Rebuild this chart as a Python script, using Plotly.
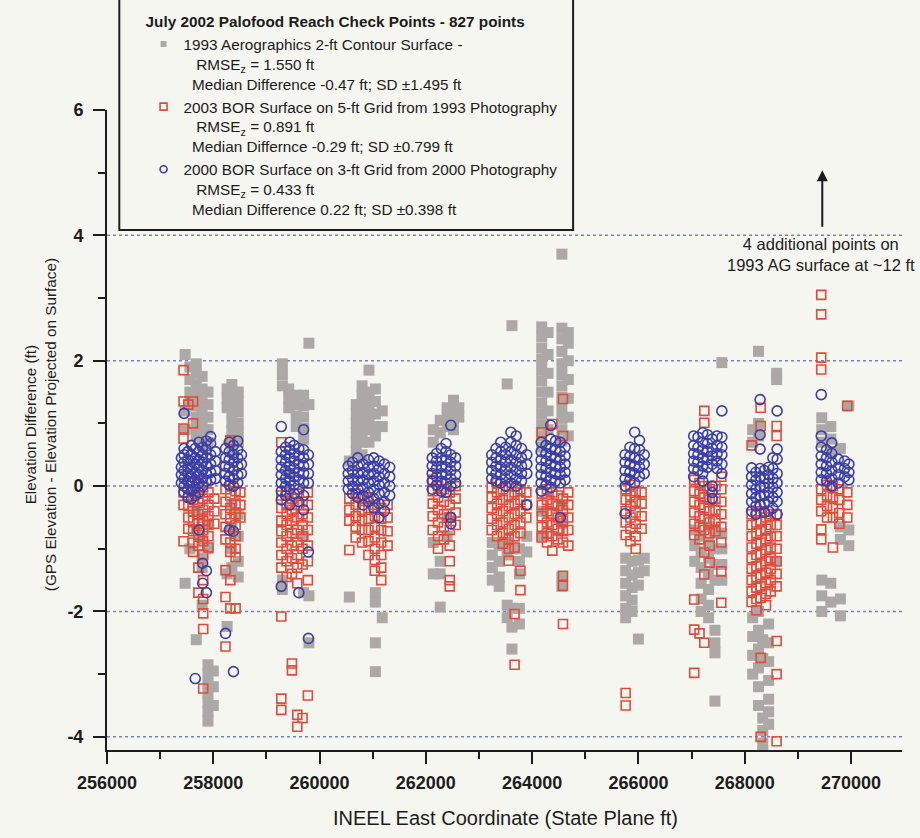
import plotly.graph_objects as go

# East coordinate (ft) of each check-point line and the elevation differences (ft) read along it.

# 1993 Aerographics 2-ft contour surface
ag_east = [257470, 257560, 257680, 257790, 257900, 258000,
           258260, 258350, 258470,
           259300, 259420, 259560, 259700, 259800,
           260560, 260690, 260800, 260930, 261050, 261180,
           262140, 262270, 262400, 262520, 262620,
           263250, 263380, 263530, 263620, 263760, 263900,
           264180, 264300, 264560, 264680,
           265760, 265880, 266000, 266110,
           267060, 267180, 267320, 267440, 267570,
           268150, 268260, 268340, 268450, 268600,
           269450, 269620, 269800, 269960]
ag_diff = [
    [2.1, 1.2, 0.9, -1.55],
    [1.9, 1.7, 1.5, 1.35, -1.0],
    [1.95, 1.8, 1.62, 1.45, 1.28, 1.1, 0.95, 0.8, -0.4, -0.7, -2.45],
    [1.75, 1.55, 1.38, 1.2, 1.02, 0.85, 0.65, -0.5, -0.85, -1.15, -1.3, -1.9],
    [1.5, 1.3, 1.1, 0.9, 0.7, -0.6, -1.0, -2.85, -3.0, -3.15, -3.3, -3.45, -3.6, -3.75],
    [-2.95, -3.2, -3.5],
    [1.55, 1.4, 1.25, -1.4, -2.24],
    [1.62, 1.48, 1.32, 1.18, 1.02, 0.88, 0.72, 0.55, -0.3, -0.65, -1.0, -1.3],
    [1.5, 1.35, 1.18, 1.0, 0.85, 0.7, -0.45, -0.8, -1.2, -1.45],
    [1.95, 1.78, 1.6, -1.5, -1.65],
    [1.55, 1.4, 1.25, 0.2],
    [1.45, 1.3, 1.12, 0.95],
    [1.45, 1.28, 1.1, 0.92, 0.75, -0.8, -1.7],
    [2.28, 1.3, -1.75, -2.5],
    [0.4, -1.77],
    [1.3, 1.15, 1.0, 0.85, 0.7, 0.55],
    [1.6, 1.45, 1.3, 1.15, 1.0, 0.85, 0.7, 0.5],
    [1.85, 1.5, 1.35, 1.2, 1.05, 0.9, 0.7],
    [1.55, 1.35, 1.15, 0.95, 0.8, -1.7, -1.85, -2.5, -2.96],
    [1.2, 0.95, -2.1],
    [0.9, 0.7, -0.9, -1.4],
    [1.05, 0.85, -1.2, -1.4, -1.93],
    [1.25, 1.1, 0.95, -0.5, -0.8],
    [1.37, 1.22, 1.05, 0.9],
    [1.25, 1.1],
    [-0.9, -1.1, -1.3, -1.5],
    [-0.95, -1.2, -1.45, -1.6],
    [1.63, -0.9, -1.1, -1.9, -2.1],
    [2.56, -1.0, -1.95, -2.25, -2.6],
    [-1.0, -1.2, -1.4, -1.95, -2.2],
    [-0.8, -1.05],
    [2.54, 2.38, 2.2, 2.02, 1.85, 1.68, 1.5, 1.32, 1.15, 0.98, 0.8, 0.62, -0.4, -0.8],
    [2.45, 2.1, 1.8, 1.5, 1.2, 0.9],
    [3.7, 2.52, 2.35, 2.15, 1.95, 1.78, 1.6, 1.42, 1.25, 1.08, 0.9, 0.72, -0.3, -0.6, -1.45, -1.6],
    [2.45, 2.28, 2.0, 1.7, 1.4, 1.1, 0.8],
    [-1.15, -1.35, -1.55, -1.75, -1.95, -2.1],
    [-1.2, -1.42, -1.62, -1.82, -2.0],
    [-1.18, -1.38, -1.58, -2.44],
    [-1.15, -1.35],
    [-0.7, -0.95, -1.2],
    [-0.8, -1.05, -1.3, -1.55, -1.8, -2.0],
    [-0.65, -0.9, -1.15, -1.4, -1.65, -1.9, -2.1],
    [-0.75, -1.0, -1.25, -1.5, -2.3, -2.5, -2.66, -3.43],
    [1.97, -0.75, -1.0, -1.25, -1.5],
    [0.9, 0.7, -2.1, -2.4, -2.7, -3.0],
    [2.15, 1.0, 0.8, -2.0, -2.3, -2.6, -2.9, -3.2, -3.5],
    [-3.7, -3.9, -4.1, -4.25, -2.45, -2.75],
    [-2.2, -2.5, -2.8, -3.1, -3.4, -3.6, -3.8],
    [1.8, 1.7, -1.2],
    [1.09, 0.9, 0.7, -1.5, -1.75, -2.0],
    [0.95, 0.75, 0.55, -1.55, -1.85],
    [0.6, -0.65, -0.85, -1.8, -2.07],
    [1.28, -0.7, -0.95],
]

# 2003 BOR surface, 5-ft grid, 1993 photography
bor93_east = [257440, 257530, 257620, 257720, 257810, 257910, 258020,
              258230, 258320, 258420, 258510,
              259280, 259380, 259480, 259580, 259680, 259780,
              260560, 260680, 260800, 260920, 261040, 261160, 261280,
              262130, 262230, 262340, 262450, 262560,
              263240, 263340, 263450, 263560, 263670, 263780, 263890,
              264180, 264280, 264380, 264480, 264580, 264680,
              265760, 265850, 265950, 266060,
              267050, 267150, 267240, 267340, 267450, 267560,
              268130, 268220, 268300, 268400, 268490, 268600,
              269440, 269550, 269660, 269780, 269930]
bor93_diff = [
    [1.85, 1.35, 0.92, 0.76, -0.1, -0.3, -0.88],
    [1.3, 0.05, -0.15, -0.32, -0.5, -0.68],
    [1.35, 1.0, -0.05, -0.22, -0.4, -0.55, -0.72, -0.9, -1.05],
    [0.08, -0.1, -0.27, -0.45, -0.6, -0.78, -0.95, -1.3, -1.7],
    [-0.02, -0.2, -0.38, -0.55, -0.7, -0.88, -1.1, -1.5, -1.8, -2.03, -2.28, -3.23],
    [-0.1, -0.3, -0.48, -0.62, -0.8, -0.98],
    [-0.2, -0.4, -0.6],
    [-0.05, -0.25, -0.45, -0.65, -0.85, -1.34, -1.77, -2.56],
    [0.73, 0.02, -0.15, -0.35, -0.52, -0.7, -0.9, -1.05, -1.5, -1.95],
    [-0.08, -0.28, -0.45, -0.62, -0.8, -1.0, -1.13, -1.95],
    [-0.1, -0.3, -0.5],
    [0.7, -0.15, -0.35, -0.55, -0.72, -0.9, -1.1, -1.3, -2.08, -3.39, -3.57],
    [-0.1, -0.28, -0.45, -0.62, -0.8, -1.0, -1.2, -1.45],
    [-0.2, -0.38, -0.55, -0.75, -0.95, -1.15, -1.4, -2.83, -2.94],
    [-0.12, -0.3, -0.5, -0.7, -0.9, -1.1, -1.3, -1.55, -3.65, -3.84],
    [-0.25, -0.45, -0.62, -0.8, -1.0, -1.25, -3.7],
    [-0.1, -0.3, -0.5, -0.7, -0.95, -1.2, -1.5, -3.34],
    [-0.2, -0.38, -0.55, -1.02],
    [-0.12, -0.3, -0.48, -0.65, -0.82],
    [-0.2, -0.38, -0.55, -0.7, -0.9],
    [-0.18, -0.35, -0.52, -0.7, -0.88, -1.1],
    [-0.3, -0.48, -0.65, -0.82, -1.0, -1.18, -1.35],
    [-0.35, -0.52, -0.7, -0.9, -1.1, -1.3, -1.5],
    [-0.3, -0.5, -0.72, -0.95],
    [0.1, -0.08, -0.28, -0.48, -0.7],
    [0.0, -0.18, -0.38, -0.58, -0.8, -1.0],
    [-0.05, -0.25, -0.45, -0.65, -0.85],
    [-0.1, -0.3, -0.5, -0.7, -0.95, -1.2, -1.5, -1.6],
    [0.0, -0.2, -0.42, -0.62],
    [-0.02, -0.18, -0.35, -0.52, -0.7],
    [0.05, -0.1, -0.28, -0.45, -0.62, -0.8],
    [-0.05, -0.22, -0.4, -0.58, -0.75, -0.92],
    [0.0, -0.15, -0.32, -0.5, -0.68, -0.85, -1.0, -1.19],
    [-0.1, -0.28, -0.45, -0.62, -0.8, -0.98, -2.04, -2.85],
    [-0.05, -0.22, -0.4, -0.58, -0.75, -1.35, -1.66],
    [-0.1, -0.3, -0.5],
    [0.86, -0.12, -0.3, -0.48, -0.65, -0.82],
    [-0.05, -0.22, -0.4, -0.58, -0.75, -0.9],
    [0.99, -0.1, -0.28, -0.45, -0.62, -0.8, -1.03],
    [-0.15, -0.32, -0.5, -0.68, -0.85],
    [1.39, 0.8, -0.2, -0.38, -0.55, -0.72, -0.9, -1.43, -1.59, -2.2],
    [-0.1, -0.3, -0.5, -0.7, -0.95],
    [-0.05, -0.22, -0.4, -0.58, -0.78, -3.3, -3.5],
    [0.02, -0.15, -0.32, -0.5, -0.68, -0.88],
    [-0.08, -0.25, -0.42, -0.6, -0.8, -1.0],
    [-0.1, -0.28, -0.48, -0.68],
    [0.1, -0.08, -0.25, -0.42, -0.6, -0.78, -1.81, -2.29, -2.98],
    [0.05, -0.12, -0.3, -0.48, -0.65, -0.85, -2.35],
    [1.2, 1.01, 0.0, -0.18, -0.35, -0.52, -0.7, -1.06, -1.41, -2.5],
    [-0.05, -0.22, -0.4, -0.58, -0.75, -0.95, -1.22],
    [0.0, -0.2, -0.38, -0.55, -0.72],
    [0.15, -0.05, -0.25, -0.45, -0.65, -0.9, -1.36, -1.86],
    [0.65, -0.45, -0.62, -0.8, -0.98, -1.15, -1.32, -1.5, -1.68, -1.85],
    [-0.42, -0.58, -0.75, -0.92, -1.1, -1.28, -1.45, -1.62, -1.8, -1.98],
    [1.25, 0.96, -0.4, -0.55, -0.72, -0.9, -1.08, -1.25, -1.42, -1.6, -1.78, -2.74, -4.0],
    [-0.5, -0.68, -0.85, -1.02, -1.2, -1.38, -1.55, -1.72, -1.9],
    [-0.45, -0.62, -0.8, -0.98, -1.15, -1.32, -1.5, -1.68],
    [0.96, 0.8, -0.45, -0.62, -0.8, -1.0, -1.2, -1.4, -1.6, -2.47, -3.0, -4.07],
    [3.05, 2.74, 2.05, 1.86, -0.05, -0.22, -0.4, -0.69, -0.85],
    [0.02, -0.15, -0.32, -0.5],
    [0.0, -0.18, -0.35, -0.5, -0.98],
    [-0.05, -0.22, -0.43, -0.6],
    [1.28, -0.1, -0.3, -0.5],
]

# 2000 BOR surface, 3-ft grid, 2000 photography
bor00_east = [257400, 257450, 257520, 257590, 257660, 257730, 257800, 257870, 257950, 258040,
              258230, 258300, 258380, 258460, 258530,
              259280, 259360, 259440, 259520, 259610, 259700, 259790,
              260540, 260620, 260720, 260820, 260920, 261020, 261120, 261220, 261320,
              262120, 262200, 262290, 262380, 262470, 262560,
              263240, 263320, 263410, 263500, 263600, 263700, 263800, 263900,
              264170, 264260, 264350, 264440, 264530, 264620,
              265750, 265840, 265930, 266020, 266110,
              267040, 267120, 267210, 267300, 267390, 267480, 267570,
              268130, 268210, 268290, 268370, 268450, 268530, 268610,
              269440, 269540, 269640, 269760, 269880, 269960]
bor00_diff = [
    [0.45, 0.3, 0.18, 0.05],
    [1.16, 0.6, 0.5, 0.38, 0.25, 0.12, 0.0, -0.1],
    [0.55, 0.42, 0.3, 0.2, 0.08, -0.05, -0.18],
    [0.65, 0.5, 0.4, 0.28, 0.15, 0.05, -0.08, -0.2],
    [0.6, 0.45, 0.35, 0.22, 0.1, -0.02, -0.15, -3.07],
    [0.7, 0.55, 0.42, 0.3, 0.18, 0.05, -0.1, -0.7],
    [0.62, 0.5, 0.38, 0.25, 0.12, 0.0, -1.23, -1.55],
    [0.72, 0.58, 0.45, 0.32, 0.2, 0.08, -1.35, -1.7],
    [0.79, 0.68, 0.5, 0.35, 0.22, 0.1],
    [0.55, 0.4, 0.25, 0.12],
    [0.6, 0.45, 0.32, 0.2, 0.08, -2.35],
    [0.7, 0.55, 0.42, 0.3, 0.15, 0.02, -0.7],
    [0.65, 0.5, 0.38, 0.25, 0.12, 0.0, -0.72, -2.96],
    [0.72, 0.58, 0.45, 0.32, 0.18, 0.05],
    [0.5, 0.35, 0.2],
    [0.95, 0.55, 0.42, 0.3, 0.18, 0.05, -0.08, -0.22, -1.6],
    [0.62, 0.5, 0.38, 0.25, 0.12, 0.0, -0.15],
    [0.7, 0.58, 0.45, 0.32, 0.2, 0.08, -0.05, -0.3],
    [0.65, 0.52, 0.4, 0.28, 0.15, 0.02, -0.12],
    [0.6, 0.48, 0.35, 0.22, 0.1, -0.05, -0.25, -1.7],
    [0.9, 0.58, 0.45, 0.32, 0.2, 0.05, -0.15, -0.38],
    [0.5, 0.35, 0.2, 0.05, -1.05, -2.43],
    [0.32, 0.2, 0.08, -0.05],
    [0.38, 0.25, 0.12, 0.0, -0.12],
    [0.45, 0.32, 0.2, 0.08, -0.05, -0.18],
    [0.35, 0.22, 0.1, -0.02, -0.15, -0.3],
    [0.42, 0.3, 0.18, 0.05, -0.1, -0.25],
    [0.45, 0.32, 0.2, 0.08, -0.05, -0.2, -0.35],
    [0.4, 0.28, 0.15, 0.02, -0.12, -0.28, -0.5],
    [0.35, 0.2, 0.05, -0.1, -0.25, -0.4],
    [0.3, 0.15, 0.0, -0.15],
    [0.45, 0.32, 0.2, 0.08, -0.05],
    [0.52, 0.4, 0.28, 0.15, 0.02],
    [0.6, 0.45, 0.32, 0.2, 0.08, -0.08],
    [0.68, 0.55, 0.42, 0.3, 0.18, 0.05, -0.1],
    [0.97, 0.5, 0.38, 0.25, 0.12, 0.0, -0.5, -0.6],
    [0.45, 0.32, 0.18, 0.05],
    [0.5, 0.38, 0.25, 0.12],
    [0.6, 0.45, 0.32, 0.2, 0.08],
    [0.7, 0.55, 0.42, 0.3, 0.18, 0.05],
    [0.62, 0.5, 0.38, 0.25, 0.12, 0.0],
    [0.86, 0.7, 0.55, 0.42, 0.3, 0.18, 0.05],
    [0.8, 0.65, 0.5, 0.38, 0.25, 0.12, 0.0],
    [0.6, 0.45, 0.32, 0.2, 0.08],
    [0.5, 0.35, 0.2, -0.3],
    [0.7, 0.55, 0.42, 0.3, 0.18, 0.05, -0.08],
    [0.65, 0.52, 0.4, 0.28, 0.15, 0.02],
    [0.97, 0.75, 0.6, 0.48, 0.35, 0.22, 0.1, -0.02],
    [0.72, 0.58, 0.45, 0.32, 0.2, 0.08],
    [0.7, 0.55, 0.42, 0.3, 0.18, 0.05, -0.5],
    [0.62, 0.48, 0.35, 0.22, 0.1],
    [0.5, 0.38, 0.25, 0.12, 0.0, -0.44],
    [0.62, 0.48, 0.35, 0.22, 0.1],
    [0.86, 0.6, 0.45, 0.32, 0.2, 0.05],
    [0.73, 0.58, 0.42, 0.3, 0.15],
    [0.5, 0.35, 0.2],
    [0.8, 0.65, 0.52, 0.4, 0.28, 0.15],
    [0.78, 0.62, 0.5, 0.38, 0.25],
    [0.85, 0.7, 0.58, 0.45, 0.32, 0.2, 0.08],
    [0.82, 0.68, 0.55, 0.42, 0.3],
    [0.75, 0.6, 0.48, 0.35, 0.0, -0.1, -0.2],
    [0.8, 0.65, 0.52, 0.4, 0.28],
    [1.2, 0.78, 0.62, 0.5, 0.35, 0.2],
    [0.29, 0.15, 0.02, -0.12, -0.25, -0.4],
    [0.22, 0.1, -0.05, -0.18, -0.32, -0.45],
    [1.38, 0.82, 0.59, 0.28, 0.15, 0.0, -0.15, -0.3],
    [0.25, 0.12, -0.02, -0.15, -0.28, -0.42],
    [0.3, 0.18, 0.05, -0.1, -0.25, -0.4],
    [0.45, 0.28, 0.12, -0.02, -0.18, -0.35],
    [1.2, 0.59, 0.43, 0.2, 0.05, -0.1, -0.25, -0.45],
    [1.46, 0.8, 0.62, 0.48, 0.35, 0.22, 0.1],
    [0.58, 0.45, 0.32, 0.2, 0.08],
    [0.69, 0.52, 0.38, 0.25, 0.12, 0.0],
    [0.43, 0.3, 0.18, 0.05],
    [0.4, 0.28, 0.15],
    [0.35, 0.22, 0.1],
]

x_tick_vals = [256000, 258000, 260000, 262000, 264000, 266000, 268000, 270000]
x_tick_text = ["256000", "258000", "260000", "262000", "264000", "266000", "268000", "270000"]
y_tick_vals = [-4, -2, 0, 2, 4, 6]
y_tick_text = ["-4", "-2", "0", "2", "4", "6"]
grid_levels = [-4, -2, 0, 2, 4]

legend_title = "July 2002 Palofood Reach Check Points - 827 points"
ag_name = ("1993 Aerographics 2-ft Contour Surface -<br>\u00a0\u00a0\u00a0RMSE<sub>z</sub> = 1.550 ft"
           "<br>\u00a0\u00a0Median Difference -0.47 ft; SD \u00b11.495 ft")
bor93_name = ("2003 BOR Surface on 5-ft Grid from 1993 Photography<br>\u00a0\u00a0\u00a0RMSE<sub>z</sub> = 0.891 ft"
              "<br>\u00a0\u00a0Median Differnce -0.29 ft; SD \u00b10.799 ft")
bor00_name = ("2000 BOR Surface on 3-ft Grid from 2000 Photography<br>\u00a0\u00a0\u00a0RMSE<sub>z</sub> = 0.433 ft"
              "<br>\u00a0\u00a0Median Difference 0.22 ft; SD \u00b10.398 ft")


def flatten(easts, diffs):
    xs, ys = [], []
    for e, col in zip(easts, diffs):
        for d in col:
            xs.append(e)
            ys.append(d)
    return xs, ys


FONT = "Liberation Sans, Arial, sans-serif"
INK = "#1c1c1c"
BG = "#f6f6f1"

AG_MARK = dict(symbol="square", color="#aca8a5", line=dict(width=0))
B93_MARK = dict(symbol="square-open", color="#e04b3a", line=dict(width=1.6))
B00_MARK = dict(symbol="circle-open", color="#3a3ea6", line=dict(width=1.6))

fig = go.Figure()

series = [(ag_east, ag_diff, ag_name, AG_MARK, 11, 6),
          (bor93_east, bor93_diff, bor93_name, B93_MARK, 9, 7),
          (bor00_east, bor00_diff, bor00_name, B00_MARK, 10, 7)]

for east, diff, name, mark, size, key_size in series:
    x, y = flatten(east, diff)
    fig.add_trace(go.Scatter(x=x, y=y, mode="markers", name=name, showlegend=False,
                             marker=dict(size=size, **mark)))
    # legend key with the small symbol used in the key box
    fig.add_trace(go.Scatter(x=[None], y=[None], mode="markers", name=name, showlegend=True,
                             marker=dict(size=key_size, **mark)))

# dotted horizontal reference lines
for lv in grid_levels:
    fig.add_shape(type="line", xref="paper", x0=0, x1=1, yref="y", y0=lv, y1=lv,
                  line=dict(color="#7c7cc6", width=1.5, dash="dot"), layer="below")

# legend frame
fig.add_shape(type="rect", xref="paper", yref="paper", x0=0.0155, x1=0.5863, y0=0.8125, y1=1.2,
              line=dict(color=INK, width=2), fillcolor="rgba(0,0,0,0)", layer="above")

axis_common = dict(
    showline=True, linewidth=2, linecolor=INK, mirror=False,
    ticks="outside", ticklen=12, tickwidth=2, tickcolor=INK,
    showgrid=False, zeroline=False,
    tickfont=dict(family=FONT, size=18, color=INK, weight="bold"),
)

fig.update_layout(
    width=920, height=838,
    margin=dict(l=107, r=18, t=110, b=88, autoexpand=False),
    paper_bgcolor=BG, plot_bgcolor=BG,
    font=dict(family=FONT, color=INK),
    xaxis=dict(range=[256000, 270960], tickvals=x_tick_vals, ticktext=x_tick_text,
               minor=dict(ticks="outside", ticklen=7, tickwidth=2, tickcolor=INK,
                          tick0=256000, dtick=1000, showgrid=False),
               ticklabelstandoff=3, **axis_common),
    yaxis=dict(range=[-4.21, 6.0], tickvals=y_tick_vals, ticktext=y_tick_text,
               minor=dict(ticks="outside", ticklen=7, tickwidth=2, tickcolor=INK,
                          tick0=0, dtick=1, showgrid=False),
               ticklabelstandoff=6, **axis_common),
    showlegend=True,
    legend=dict(x=0.046, y=1.160, xanchor="left", yanchor="top",
                bgcolor="rgba(0,0,0,0)", borderwidth=0,
                title=dict(text="<b>" + legend_title + "</b>", font=dict(family=FONT, size=15.3, color=INK)),
                font=dict(family=FONT, size=15.3, color=INK),
                valign="top", itemsizing="trace", tracegroupgap=0),
    annotations=[
        dict(text="INEEL East Coordinate (State Plane ft)", xref="paper", yref="paper",
             x=0.5008, y=-0.106, xanchor="center", yanchor="middle", showarrow=False,
             font=dict(family=FONT, size=20, color=INK)),
        dict(text="Elevation Difference (ft)<br>(GPS Elevation - Elevation Projected on Surface)",
             xref="paper", yref="paper", x=-0.0826, y=0.508, xanchor="center", yanchor="middle",
             textangle=-90, showarrow=False, font=dict(family=FONT, size=15.3, color=INK)),
        dict(text="", x=269460, y=5.04, xref="x", yref="y", showarrow=True,
             ax=0, ay=58, arrowhead=2, arrowsize=1.1, arrowwidth=2, arrowcolor=INK),
        dict(text="4 additional points on<br>1993 AG surface at ~12 ft", x=269430, y=3.69,
             xref="x", yref="y", xanchor="center", yanchor="middle", showarrow=False,
             font=dict(family=FONT, size=16.5, color=INK)),
    ],
)

fig.write_html("out.html")
